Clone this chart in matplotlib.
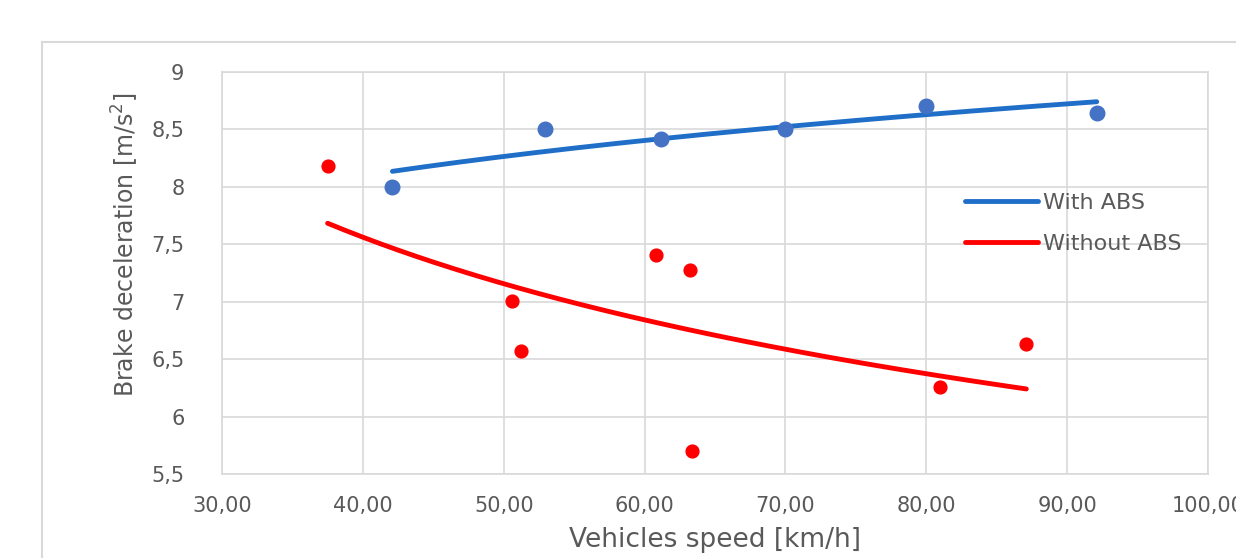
import numpy as np
import matplotlib
matplotlib.use("Agg")
import matplotlib.pyplot as plt
from matplotlib.patches import Rectangle
from matplotlib.ticker import FuncFormatter

abs_speed = [42.1, 52.9, 61.2, 70.0, 80.0, 92.1]
abs_decel = [8.00, 8.50, 8.42, 8.50, 8.70, 8.64]
noabs_speed = [37.5, 50.6, 51.2, 60.8, 63.2, 63.4, 81.0, 87.1]
noabs_decel = [8.18, 7.01, 6.57, 7.41, 7.28, 5.70, 6.26, 6.63]
x_ticks = [30, 40, 50, 60, 70, 80, 90, 100]
y_ticks = [5.5, 6, 6.5, 7, 7.5, 8, 8.5, 9]
series_names = ["With ABS", "Without ABS"]

plt.rcParams['font.family'] = ['DejaVu Sans']

fig = plt.figure(figsize=(12.36, 5.58), dpi=100)
W, H = 1236, 558
fig.patches.append(Rectangle((42 / W, -0.1), 1.2, (558 - 42) / H + 0.1, transform=fig.transFigure,
                             facecolor='white', edgecolor='#D9D9D9', linewidth=1.5, zorder=-5))
ax = fig.add_axes([222 / W, 1 - 474 / H, (1208 - 222) / W, (474 - 72) / H])
ax.patch.set_alpha(0)
ax.set_xlim(30, 100)
ax.set_ylim(5.5, 9)
ax.set_xticks(x_ticks)
ax.set_yticks(y_ticks)
ax.grid(True, color='#D9D9D9', linewidth=1.2)
ax.set_axisbelow(True)
for s in ax.spines.values():
    s.set_color('#D9D9D9')
    s.set_linewidth(1.2)
ax.tick_params(length=0, colors='#595959', labelsize=15)
ax.tick_params(axis='y', pad=27)
ax.tick_params(axis='x', pad=16)
ax.xaxis.set_major_formatter(FuncFormatter(lambda v, p: f"{v:.2f}".replace('.', ',')))
ax.yaxis.set_major_formatter(FuncFormatter(lambda v, p: (f"{v:g}").replace('.', ',')))
ax.set_xlabel("Vehicles speed [km/h]", fontsize=19, color='#595959', labelpad=8)
ax.set_ylabel("Brake deceleration [m/s$^2$]", fontsize=17, color='#595959')
ax.yaxis.set_label_coords(-0.082, 0.57)

def power_fit(x, y):
    x = np.asarray(x, float); y = np.asarray(y, float)
    b, lna = np.polyfit(np.log(x), np.log(y), 1)
    xs = np.linspace(x.min(), x.max(), 200)
    return xs, np.exp(lna) * xs ** b

xs, ys = power_fit(abs_speed, abs_decel)
ax.plot(xs, ys, color='#1F6FC8', linewidth=3.5, label=series_names[0], solid_capstyle='round')
xs, ys = power_fit(noabs_speed, noabs_decel)
ax.plot(xs, ys, color='#FF0000', linewidth=3.5, label=series_names[1], solid_capstyle='round')
ax.scatter(abs_speed, abs_decel, s=110, color='#4472C4', zorder=3)
ax.scatter(noabs_speed, noabs_decel, s=85, color='#FF0000', zorder=3)

leg = ax.legend(loc='upper left', bbox_to_anchor=(945 / W, 1 - 173 / H), bbox_transform=fig.transFigure,
                frameon=False, fontsize=16, handlelength=3.3, handletextpad=0.2, labelspacing=0.95)
for t in leg.get_texts():
    t.set_color('#595959')

fig.savefig("out.png", dpi=100)
